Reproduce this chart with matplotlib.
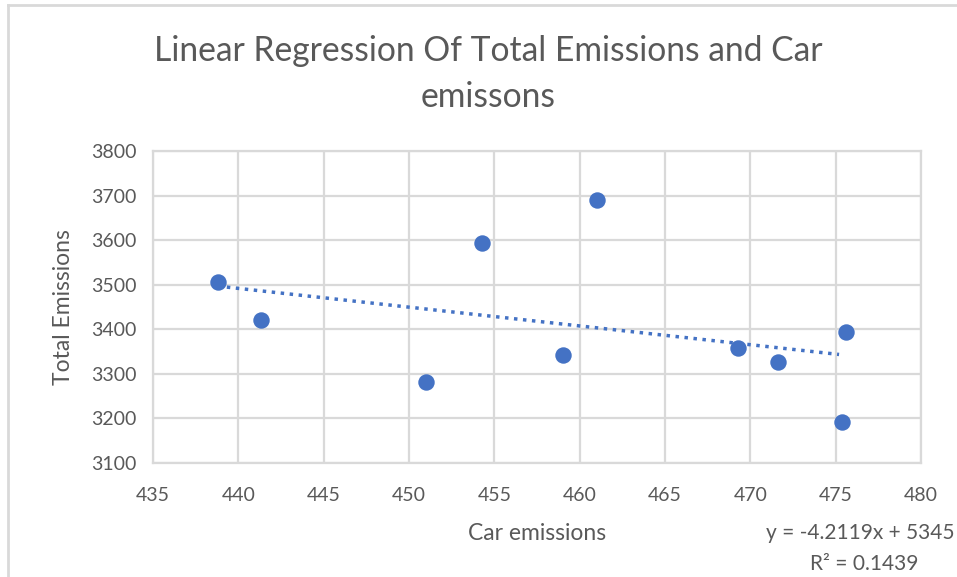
import numpy as np
import matplotlib.pyplot as plt
from matplotlib.lines import Line2D

plt.rcParams['font.family'] = ['Lato', 'DejaVu Sans']

# 数据
car = [438.8, 441.3, 451.0, 454.3, 459.0, 461.0, 469.3, 471.6, 475.4, 475.6]
total = [3507, 3420, 3281, 3594, 3342, 3691, 3359, 3327, 3193, 3393]
slope = -4.2119
intercept = 5345
r2 = 0.1439
xticks = [435, 440, 445, 450, 455, 460, 465, 470, 475, 480]
yticks = [3100, 3200, 3300, 3400, 3500, 3600, 3700, 3800]

grey = '#595959'
grid = '#D9D9D9'
blue = '#4472C4'

fig = plt.figure(figsize=(9.57, 5.77), dpi=100)
ax = fig.add_axes([153/957, 1-463/577, (921-153)/957, (463-151)/577])

ax.scatter(car, total, s=140, color=blue, zorder=3, linewidths=0)
# 趋势线
tx = np.array([min(car), max(car) - 0.4])
ax.plot(tx, slope*tx + intercept, color=blue, linestyle=(0, (1, 1.6)), linewidth=2.5, zorder=2)

ax.set_xlim(435, 480)
ax.set_ylim(3100, 3800)
ax.set_xticks(xticks)
ax.set_yticks(yticks)
ax.grid(True, color=grid, linewidth=1.6)
ax.set_axisbelow(True)
for s in ax.spines.values():
    s.set_color(grid)
    s.set_linewidth(1.6)
ax.tick_params(length=0, labelsize=14, colors=grey)
ax.tick_params(axis='x', pad=17)
ax.tick_params(axis='y', pad=12)

ax.set_xlabel('Car emissions', fontsize=16.5, color=grey, labelpad=14)
ax.set_ylabel('Total Emissions', fontsize=16.5, color=grey, labelpad=12)

fig.text(488/957, 1-74/577, 'Linear Regression Of Total Emissions and Car\nemissons',
         ha='center', va='center', fontsize=24.2, color=grey, linespacing=1.55)

fig.text(955/957, 1-533/577, f'y = {slope}x + {intercept}', ha='right', va='center',
         fontsize=15, color=grey)
fig.text(918/957, 1-564/577, f'R² = {r2}', ha='right', va='center',
         fontsize=15, color=grey)

# 外框
fig.add_artist(Line2D([8/957, 1], [1-5/577, 1-5/577], color=grid, linewidth=2))
fig.add_artist(Line2D([8/957, 8/957], [0, 1-5/577], color=grid, linewidth=2))

plt.savefig('out.png', dpi=100)
